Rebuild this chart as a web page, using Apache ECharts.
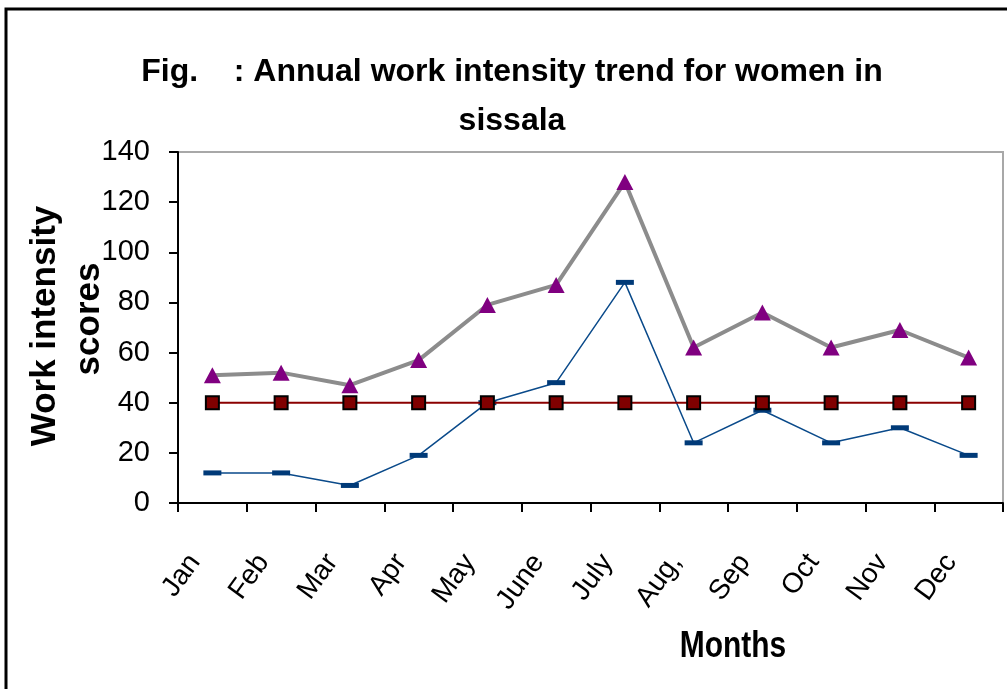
<!DOCTYPE html>
<html><head><meta charset="utf-8">
<script src="https://cdn.jsdelivr.net/npm/echarts@6/dist/echarts.min.js"></script>
<style>html,body{margin:0;padding:0;background:#fff}#c{width:1007px;height:689px}</style>
</head><body><div id="c"></div>
<script>
const months = ['Jan','Feb','Mar','Apr','May','June','July','Aug,','Sep','Oct','Nov','Dec'];
const seriesBlue = [12,12,7,19,40,48,88,24,37,24,30,19];
const seriesRed = [40,40,40,40,40,40,40,40,40,40,40,40];
const seriesGray = [51,52,47,57,79,87,128,62,76,62,69,58];
const yTicks = [0,20,40,60,80,100,120,140];

const SANS = '"Liberation Sans",Arial,sans-serif';
const chart = echarts.init(document.getElementById('c'));
chart.setOption({
  animation:false,
  backgroundColor:'#fff',
  title:{
    text:'Fig.    : Annual work intensity trend for women in\nsissala',
    left:507, top:43, textAlign:'center',
    textStyle:{fontFamily:SANS,fontWeight:'bold',fontSize:32,color:'#000',lineHeight:49}
  },
  grid:{left:178,right:4,top:152,bottom:186,show:true,borderColor:'#a8a8a8',borderWidth:2,backgroundColor:'#fff'},
  xAxis:{
    type:'category', data:months, boundaryGap:true,
    axisLine:{lineStyle:{color:'#000',width:2}},
    axisTick:{show:true,inside:false,length:9,alignWithLabel:false,lineStyle:{color:'#000',width:2}},
    axisLabel:{rotate:54,margin:30,padding:[0,30,0,0],fontFamily:SANS,fontSize:28,color:'#000'},
    splitLine:{show:false}
  },
  yAxis:{
    type:'value', min:yTicks[0], max:yTicks[yTicks.length-1], interval:20,
    axisLine:{show:true,lineStyle:{color:'#000',width:2}},
    axisTick:{show:true,length:9,lineStyle:{color:'#000',width:2}},
    axisLabel:{margin:28,fontFamily:SANS,fontSize:29,color:'#000'},
    splitLine:{show:false}
  },
  graphic:[
    {type:'rect',shape:{x:6,y:9,width:1100,height:800},style:{fill:'none',stroke:'#000',lineWidth:3},silent:true,z:100},
    {type:'text',x:45,y:326,rotation:Math.PI/2,style:{text:'Work intensity',font:'bold 35px "Liberation Sans",Arial,sans-serif',fill:'#000',textAlign:'center',textVerticalAlign:'middle'}},
    {type:'text',x:89,y:319,rotation:Math.PI/2,style:{text:'scores',font:'bold 35px "Liberation Sans",Arial,sans-serif',fill:'#000',textAlign:'center',textVerticalAlign:'middle'}},
    {type:'text',x:733,y:647,scaleX:0.81,style:{text:'Months',font:'bold 37px "Liberation Sans",Arial,sans-serif',fill:'#000',textAlign:'center',textVerticalAlign:'middle'}}
  ],
  series:[
    {type:'line',data:seriesBlue,symbol:'rect',symbolSize:[18,5],showAllSymbol:true,
     lineStyle:{color:'#0a4a8a',width:1.5},itemStyle:{color:'#003a78',borderWidth:0},z:2},
    {type:'line',data:seriesRed,symbol:'rect',symbolSize:13,showAllSymbol:true,
     lineStyle:{color:'#8b0000',width:2},itemStyle:{color:'#800000',borderColor:'#000',borderWidth:2},z:3},
    {type:'line',data:seriesGray,symbol:'triangle',symbolSize:[17,16],showAllSymbol:true,
     lineStyle:{color:'#8c8c8c',width:4},itemStyle:{color:'#800080',borderWidth:0},z:4}
  ]
});
</script></body></html>
